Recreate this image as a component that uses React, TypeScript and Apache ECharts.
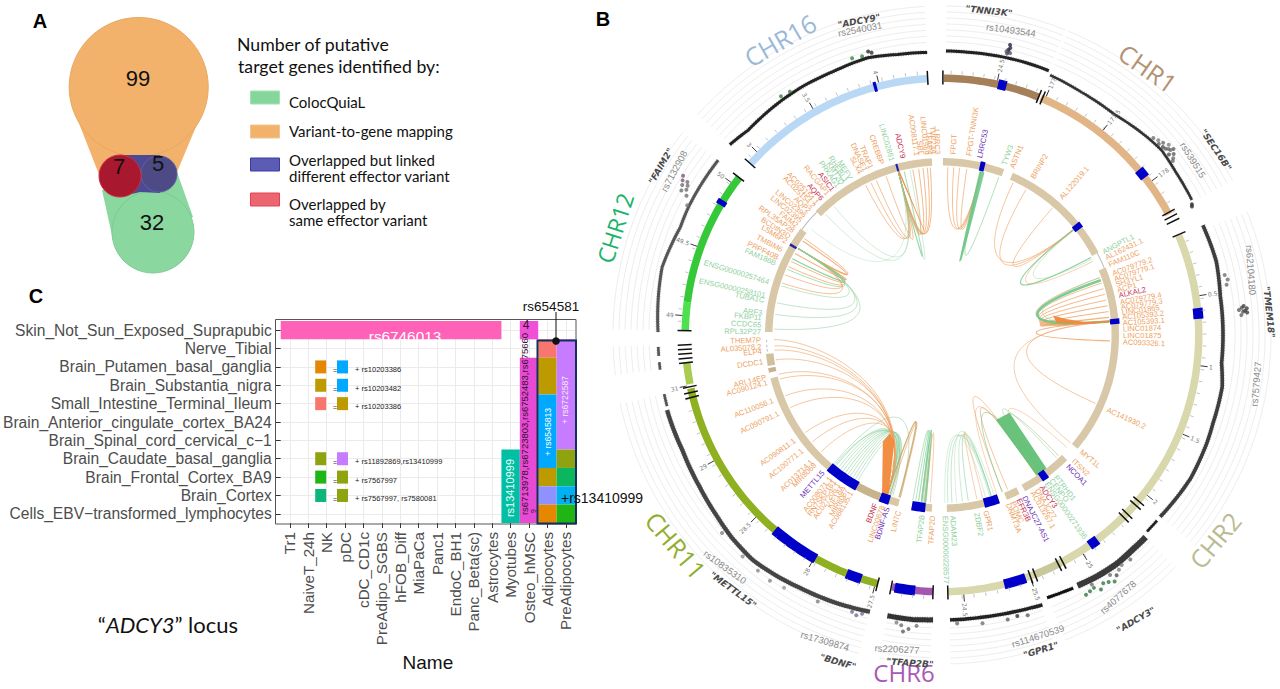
import React, { useEffect, useRef } from "react";
import * as echarts from "echarts";

// ---------- Panel C data ----------
const cellTypes = ["Tr1","NaiveT_24h","NK","pDC","cDC_CD1c","PreAdipo_SGBS","hFOB_Diff","MiaPaCa","Panc1","EndoC_BH1","Panc_Beta(sc)","Astrocytes","Myotubes","Osteo_hMSC","Adipocytes","PreAdipocytes"];
const tissues = ["Skin_Not_Sun_Exposed_Suprapubic","Nerve_Tibial","Brain_Putamen_basal_ganglia","Brain_Substantia_nigra","Small_Intestine_Terminal_Ileum","Brain_Anterior_cingulate_cortex_BA24","Brain_Spinal_cord_cervical_c\u22121","Brain_Caudate_basal_ganglia","Brain_Frontal_Cortex_BA9","Brain_Cortex","Cells_EBV\u2212transformed_lymphocytes"];
// [first column, last column, first row, last row, colour]
const heatTiles: any[] = [
  [0, 11, 0, 0, "#ff61b8"],
  [12, 12, 7, 10, "#00bfa4"],
  [13, 13, 0, 0, "#f04fd6"],
  [13, 13, 2, 10, "#e84ad4"],
  [14, 14, 1, 1, "#f8766d"],
  [14, 14, 2, 3, "#bd9a00"],
  [14, 14, 4, 7, "#00a9ff"],
  [14, 14, 8, 8, "#bd9a00"],
  [14, 14, 9, 9, "#8f91ff"],
  [14, 14, 10, 10, "#e58700"],
  [15, 15, 1, 6, "#c77cff"],
  [15, 15, 7, 7, "#8fa30e"],
  [15, 15, 8, 8, "#0cb65f"],
  [15, 15, 9, 9, "#00b0f0"],
  [15, 15, 10, 10, "#1fb515"],
];
// [column, row, colour]
const miniCells: any[] = [
  [2, 2, "#e58700"], [3, 2, "#00a9ff"],
  [2, 3, "#bd9a00"], [3, 3, "#00a9ff"],
  [2, 4, "#f8766d"], [3, 4, "#bd9a00"],
  [2, 7, "#8fa30e"], [3, 7, "#c77cff"],
  [2, 8, "#1fb515"], [3, 8, "#8fa30e"],
  [2, 9, "#0cb67a"], [3, 9, "#8fa30e"],
];
const miniNotes: any[] = [
  [2, "+ rs10203386"], [3, "+ rs10203482"], [4, "+ rs10203386"],
  [7, "+ rs11892869,rs13410999"], [8, "+ rs7567997"], [9, "+ rs7567997, rs7580081"],
];

// ---------- Panel B data (angles in degrees clockwise from the top) ----------
const blue = "#0000c8";
const outerSegments: any[] = [
  [0.4, 22.2, "#a57f58"], [12.6, 14.5, blue],
  [22.6, 62, "#e2b587"], [50, 52.2, blue],
  [67.1, 178.6, "#d8d8ac"], [84, 86.4, blue], [131, 152, "#d8d8ac"], [142.8, 145, blue], [152.6, 159, "#c8c89c"], [161, 166, blue],
  [182, 191.2, "#a356b0"], [186, 190.6, blue],
  [194.5, 258, "#8fb020"], [198.3, 201.8, blue], [209.4, 220.6, blue],
  [259, 264, "#a9cc50"], [271, 277.4, "#4fe04f"], [277.4, 307.8, "#35c93a"], [300.4, 301.6, blue],
  [311.8, 356.8, "#b9d8f5"], [344.6, 345.3, blue],
];
const blackBars = [0.2, 22.1, 23, 61.6, 62.7, 63.8, 67, 130.2, 131.3, 134, 135.1, 152, 153.1, 158.8, 159.9, 178.7, 182, 191.4, 194.5, 256, 257.1, 258.4, 263.8, 264.8, 265.8, 266.8, 267.8, 271, 307.8, 311.8, 356.8];
// [first, last, step]
const minorTicks: any[] = [[2, 62, 2.4], [69, 178, 2.6], [184, 191, 2.4], [196, 258, 2.6], [273, 307, 2.7], [313, 356, 2.6]];
const majorTicks: any[] = [
  [12.3, "24.5"], [23.6, "177"], [38.2, "177.5"], [53.7, "178"], [81.3, "0.5"], [96.8, "1"], [112.4, "1.5"], [128, "2"],
  [147.2, "25"], [160, "25.5"], [175.2, "24.5"], [195, "27.5"], [209.8, "28"], [225.6, "28.5"], [241.1, "29"], [258.7, "31"],
  [274.3, "49"], [289.9, "49.5"], [305.9, "50"], [314.7, "3"], [330.3, "3.5"], [345.9, "4"],
];
const innerSegments: any[] = [
  [0.3, 20.6, "#d8c8a8"], [12.6, 14.2, blue],
  [23.6, 62.2, "#d8c8a8"], [50.4, 52.4, blue],
  [67.6, 130, "#d8c8a8"], [84.6, 86.4, blue],
  [135, 152, "#d8c8a8"], [143, 145.4, blue],
  [154, 158.5, "#d8c8a8"],
  [161, 178.4, "#d8c8a8"], [161, 166, blue],
  [183.3, 190, "#d8c8a8"], [185.5, 190, blue],
  [194.4, 255.8, "#d8c8a8"], [197.6, 200.9, blue], [200.9, 209.2, "#c8b48c"], [209.2, 220.4, blue],
  [257.7, 259.2, "#c8b48c"], [259.9, 263.8, "#d0c09c"],
  [271, 307, "#d8c8a8"], [300.4, 301.2, "#2020b0"],
  [314.5, 356.7, "#d8c8a8"], [344.7, 345.4, "#2020b0"],
];
const thinInnerArcs: any[] = [[307, 314.5], [62.2, 67.6], [264.6, 265.4], [266, 266.8], [267.6, 268.4]];

const orange = "#ee9f5f", green = "#6fc788", red = "#c8304f", purple = "#6a2fb5", pale = "#8fd0a0";
// [gene, angle, colour]
const geneLabels: any[] = [
  ["FPGT",3.5,orange],["FPGT-TNNI3K",8.5,orange],["LRRC53",12,purple],["TYW3",20,pale],["ASTN1",22.7,orange],["BRINP2",30,orange],["AL122019.1",41,orange],
  ["ANGPTL1",62.7,pale],["AL162431.1",64.7,orange],["FAM110C",67.2,orange],["AC079779.2",70.2,orange],["AC079779.1",72,orange],["SH3YL1",73.8,orange],["ACP1",75.6,orange],["ALKAL2",77.4,red],["AC079779.4",79.6,orange],["AC079779.3",81.2,orange],["LINC01865",82.8,orange],["AC105393.2",84.4,orange],["AC105393.1",86.2,orange],["LINC01874",88.1,orange],["LINC01875",90,orange],["AC093326.1",92.2,orange],
  ["AC141930.2",114.3,orange],["MYT1L",129.9,orange],["ITSN2",133.7,orange],["NCOA1",136.1,purple],["PTRHD1",141.2,pale],["CENPO",143,pale],["ENSG00000271936",144.8,pale],["ADCY3",146.6,red],["DNAJC27",148.4,orange],["AC013267.1",150,orange],["DNAJC27-AS1",153,purple],["EFR3B",155,red],["POMC",157,orange],["DNMT3A",158.6,orange],
  ["GPR1",166,orange],["ZDBF2",169,pale],["ADAM23",176.6,pale],["ENSG00000228577",179,pale],
  ["TFAP2D",183,orange],["TFAP2B",186.3,pale],["LIN7C",193.9,orange],["BDNF-AS",197.6,purple],["LINC00678",199.2,orange],["BDNF",201.5,red],
  ["AC068135.1",210,orange],["MIR8087",211.6,orange],["KIF18A",213.2,orange],["AC027206.1",214.8,orange],["RN7SKP161",216.4,orange],["AC008071.1",218,orange],["METTL15",221,purple],["MIR8068",224.5,orange],["AC013714.1",226,orange],["AC100771.1",230.5,orange],["AC090811.1",234.5,orange],
  ["AC090791.1",244.4,orange],["AC110056.1",248.8,orange],["AC090124.1",254.8,orange],["ARL14EP",256.5,orange],["DCDC1",261.5,orange],["ELP4",264.8,orange],["AL035078.2",266.3,orange],["THEM7P",268.4,orange],
  ["RPL32P27",271,pale],["CCDC65",273.2,pale],["FKBP11",275.4,pale],["ARF3",277,pale],["TUBA1C",281,pale],["ENSG00000258101",282.6,pale],["ENSG00000257464",287,pale],["FAM186B",293.3,pale],["PRPF40B",295.3,orange],["TMBIM6",298,orange],["LSM6P2",301,orange],["BCDIN3D",302.8,orange],["RPL35AP28",305,orange],["FAIM2",307,orange],["LINC02395",309,orange],["LINC02396",311,orange],["AQP2",313,orange],["AC025154.2",315,orange],["AC025154.1",316.5,orange],["AQP6",318.5,red],["RACGAP1",321,orange],["ASIC1",323,red],["PRKAG1",325,pale],["KMT2D",326.6,pale],["RHEBL1",328,pale],["MEFV",329.6,pale],
  ["SLX4",333.2,orange],["DNASE1",335,orange],["TRAP1",337,orange],["CREBBP",340.6,orange],["LINC02861",344,pale],["ADCY9",347.6,red],["AC008117.1",352,orange],["SRL",353.4,orange],["LINC01569",355,orange],["TFAP4",356.2,orange],["TVP23A",357.4,orange],["LRRC3",358.6,orange],
];
// [from angle, to angle, control radius at from, control radius at to, colour, width, opacity]
const chords: any[] = [
  [345,333,75,90,orange,.8,.8],[345,335,75,88,orange,.8,.8],[345,337,75,88,orange,.8,.8],[345,340.6,70,85,orange,.8,.8],
  [345,350,78,85,orange,.9,.8],[345,352,78,85,orange,.9,.8],[345,353.5,78,85,orange,.9,.8],[345,355,78,85,orange,.9,.8],[345,356,78,85,orange,.9,.8],
  [345,347,45,60,green,1.1,.6],[345,349,40,55,green,.8,.4],
  [13.4,2,90,85,orange,.8,.8],[13.4,4,90,85,orange,.8,.8],[13.4,6,90,85,orange,.8,.8],[13.4,8.5,90,85,orange,.8,.8],[13.2,14,45,45,green,1.8,.85],[13.6,14.4,45,50,green,1.4,.85],[13.4,19.8,55,55,green,.9,.6],
  [51.3,25,85,65,orange,.8,.75],[51.3,30,85,60,orange,.8,.75],[51.3,41,85,70,orange,.8,.75],[51.3,62.5,75,65,green,1.2,.8],[51.1,64,85,70,orange,.8,.6],[51.6,63.2,92,88,pale,.8,.5],
  [85.4,70,72,75,orange,.8,.8],[85.4,72,76,75,orange,.8,.8],[85.4,74,76,75,orange,.9,.8],[85.4,76,76,75,orange,.9,.8],[85.4,78,76,75,orange,.9,.8],[85.4,80,76,75,orange,1,.8],[85.4,82,76,75,orange,1,.8],[85.4,84,76,75,orange,1.2,.8],
  [85.4,71,72,78,green,2.6,.9],[85.4,70,80,85,pale,.8,.5],[85.2,92,70,70,orange,1.2,.8],
  [85.4,114,70,55,orange,.8,.75],[85.4,130,62,48,orange,.8,.65],
  [144,132,85,72,orange,.8,.55],[144,136,88,76,"#b7c090",.8,.8],[144,137,72,72,pale,1,.5],[146,157,62,48,orange,.8,.75],[146,159,50,25,orange,.8,.7],[146,161,65,40,orange,.8,.55],
  [144,159,68,58,green,1,.6],
  [163,171,80,80,pale,1,.6],[163,173,80,80,pale,1,.45],[163,176.6,82,80,pale,1,.5],[163.5,178,82,78,pale,1,.45],[165,179,82,78,pale,1,.35],[162,175,78,74,pale,1,.35],[166,168,75,78,orange,.8,.6],
  [187,185.6,72,72,green,1.6,.85],[188,186,72,72,green,1.2,.6],[189,186.5,72,72,green,1,.5],[190,187,72,74,pale,1,.6],[184,186,80,70,orange,.8,.65],
  [211,198,88,90,pale,1,.55],[212,198.5,88,90,pale,1,.55],[213,199,88,90,pale,1,.55],[214,199,90,90,pale,1,.55],[215,198,90,90,green,1,.55],[216,199,92,90,pale,1,.55],[217,199,90,92,pale,1,.55],[218,200,92,92,pale,1,.55],[219,199,92,90,green,1,.5],[210,197.5,92,92,pale,1,.5],[219.5,197,96,92,pale,1,.55],[220,194.4,90,55,pale,1,.55],
  [199,234.5,78,105,orange,.8,.75],[199,230.5,78,105,orange,.8,.75],[199,226,78,105,orange,.8,.7],[199,244.4,72,108,orange,.8,.75],[199,248.8,72,108,orange,.8,.75],[199,254.8,66,110,orange,.8,.75],[199,256.5,66,112,orange,.8,.75],[199,261.5,60,118,orange,.8,.75],[199,264.8,58,125,orange,.8,.75],[199,266.3,55,128,orange,.8,.75],[199,268.4,52,130,orange,.8,.75],
  [198,194.4,82,50,orange,.9,.7],[199,194.8,70,60,"#c7a060",1.4,.8],
  [301,305,92,95,orange,.9,.8],[301,304,93,95,orange,1.2,.8],[301,299,88,95,orange,1.1,.8],[301,296,92,92,orange,.9,.8],[301,294,95,88,orange,.9,.8],[301,291,96,90,orange,.8,.8],[301,288,98,85,orange,.8,.8],
  [301,297,92,92,green,1.3,.8],[301,293,92,88,green,.9,.65],[301,287,80,82,pale,.9,.6],[301,281,72,70,pale,1,.55],[301,277,72,62,pale,1,.55],[301,272,70,55,pale,1,.55],
  [345,316,70,60,pale,1,.4],[345,320,70,62,pale,1,.4],[345,309,72,75,pale,.9,.35],
];
// filled link ribbons: lists of [radius, angle]
const ribbons: any[] = [
  { color: "#62c076", points: [[172,146],[172,142],[103,139],[100.7,147.6]] },
  { color: "#f0883a", points: [[172,198.3],[173,200.3],[122,209],[111,207.9],[117,204]] },
  { color: "#f0883a", points: [[170,85.6],[143,85.6],[115,84],[113,80],[125,82.6],[143,84.8],[170,85.2]] },
  { color: "#f0883a", points: [[171,345.4],[171,344.9],[108,350],[103,351],[106,350.5]] },
];
// Manhattan tracks: [width, colour, [angle, radius]...]
const manhattanChunks: any[] = [
  { w: 3, c: "#222", p: [[0.8,284],[6,284],[11,284.5],[17,285],[22,285]] },
  { w: 2.6, c: "#333", p: [[22.6,281.5],[30,280],[38,280],[46,285],[50,287],[55,285],[61.6,284]] },
  { w: 3.6, c: "#3d3d3d", p: [[67.2,283],[75,284],[82,281],[90,281],[95.7,281],[100.5,285],[108,285],[112,286],[120,287],[129.8,284]] },
  { w: 2.6, c: "#222", p: [[130.8,284],[133.8,284]] },
  { w: 6, c: "#3a3a3a", p: [[134.8,287],[138,287],[142.5,288],[147,287],[151.6,285]] },
  { w: 3, c: "#111", p: [[152.6,285],[155,284],[158.2,283]] },
  { w: 3.4, c: "#222", p: [[159.6,288],[162,287],[165.6,286],[172,285],[178.4,285]] },
  { w: 5, c: "#333", p: [[181.8,285],[186,286],[191,286]] },
  { w: 4.2, c: "#444", p: [[194.6,286],[198,287],[201.4,288],[205,289],[209.3,290],[214,292],[220,294],[226,292],[231,289],[238,286],[246,284],[254.7,285]] },
  { w: 2.6, c: "#555", p: [[255.5,284],[258,284]] },
  { w: 2.6, c: "#555", p: [[263,284],[264.5,284]] },
  { w: 2.6, c: "#555", p: [[265.8,284],[267.6,284]] },
  { w: 3, c: "#555", p: [[270.6,284],[277,286],[283.6,288],[292.4,283],[297,284],[301.4,284],[308,284]] },
  { w: 3, c: "#222", p: [[311.9,285],[316.6,282],[325,284],[331,285],[337.5,285],[345,287],[351,284],[357,283]] },
];
// individual association points standing out of the Manhattan tracks: [angle, radius, colour]
const manhattanPeaks: any[] = [
  [13,289,"#445"],[13.2,291,"#445"],[13.1,293,"#223"],[13.4,295,"#223"],[13.2,298,"#113"],[12.8,291,"#556"],[13.6,290,"#556"],
  [47,289,"#666"],[48,291,"#777"],[49,293,"#666"],[50,296,"#777"],[50.6,293,"#666"],[51.2,297,"#555"],[52,294,"#555"],[53,289,"#666"],[49.6,290,"#444"],[51.5,290,"#444"],[48.6,289,"#555"],[50.2,291,"#555"],[52.6,291,"#666"],[51,294,"#666"],
  [62.4,282,"#222"],[62.8,281,"#222"],
  [78,289,"#666"],[79,291,"#666"],[80,289,"#666"],[84.5,303,"#333"],[85,306,"#333"],[85.4,304,"#333"],[85.8,306,"#333"],[85.2,298,"#555"],[86.2,300,"#555"],[84.8,301,"#444"],[85.6,302,"#444"],
  [140,293,"#666"],[143,294,"#777"],[145,293,"#666"],[149,291,"#666"],[147,296,"#286e3a"],[146,298,"#286e3a"],[149,295,"#286e3a"],[151,297,"#286e3a"],[145,301,"#286e3a"],[148,300,"#286e3a"],[150,296,"#286e3a"],[144,297,"#444"],[142,292,"#777"],
  [165,291,"#222"],[167,292,"#555"],[163,293,"#555"],[172,291,"#666"],[177,289,"#666"],
  [185,292,"#666"],[186.5,296,"#555"],[188,293,"#666"],[189,291,"#777"],[187.5,299,"#555"],
  [196,290,"#6a6a8a"],[197,293,"#6a6a8a"],[198,291,"#6a6a8a"],[205,294,"#777"],[212,298,"#8a9a8a"],[215,300,"#7a8a7a"],[218,299,"#7a8a7a"],[222,298,"#888"],[228,296,"#777"],
  [297,286,"#777"],[299,298,"#666"],[300,300,"#666"],[300.8,302,"#754a75"],[301.6,304,"#754a75"],[301,297,"#666"],[299.6,294,"#666"],[298.6,291,"#666"],[300.4,295,"#666"],
  [342,291,"#2f7a3a"],[344,290,"#2f7a3a"],[345.4,293,"#222"],[346,291,"#222"],[328,287,"#3a7a3a"],[326,288,"#3a7a3a"],
];
// angular extent of the faint concentric guide arcs
const guideSectors: any[] = [[0.8,22],[22.6,62],[68,129.8],[134.8,158],[160,178.5],[182,191],[194.6,258],[263,268],[271,308],[312,357]];
const guideRadii = [293, 299, 305, 311, 317, 323, 329];

const chrNames: any[] = [
  ["CHR1","#b39273",1148,68,-35,25],["CHR16","#9ab9d8",780,40,30,25],["CHR12","#18b46a",615,228,72,23],["CHR2","#baba90",1215,540,50,25],["CHR6","#a759b4",904,672,0,24],["CHR11","#92ae2e",676,545,-50,25],
];
const locusNames: any[] = [
  ["\"ADCY9\"",859,21,11],["\"TNNI3K\"",989,11,-6],["\"SEC16B\"",1216,150,-56],["\"TMEM18\"",1269,312,-84],["\"ADCY3\"",1136,620,30],["\"GPR1\"",1041,650,17],["\"TFAP2B\"",910,663,-4],["\"BDNF\"",838,662,-16],["\"METTL15\"",733,590,-36],["\"FAIM2\"",661,166,60],
];
const leadSnps: any[] = [
  ["rs2540031",860,29,11],["rs10493544",1011,30,-8],["rs539515",1193,160,-58],["rs62104180",1251,270,-86],["rs7579427",1256,384,85],["rs4077678",1118,597,42],["rs114670539",1038,636,18],["rs2206277",897,649,-3],["rs17309874",825,641,-16],["rs10835310",725,567,-36],["rs7132908",674,171,62],
];

// ---------- Panel A data ----------
const vennCounts: any[] = [["99",138,78],["7",119,166],["5",158,163],["32",152,222]];
const legendItems = ["ColocQuiaL","Variant-to-gene mapping","Overlapped but linked\ndifferent effector variant","Overlapped by\nsame effector variant"];

const deg = Math.PI / 180;

function customPolar(data: any[], z: number, draw: (item: any, api: any) => any) {
  return {
    type: "custom", coordinateSystem: "polar", polarIndex: 0, silent: true, z, clip: false,
    data: data.map((_, i) => [200, i % 360]),
    renderItem: (params: any, api: any) => draw(data[params.dataIndex], api),
  };
}
function arcBand(api: any, a0: number, a1: number, r0: number, r1: number) {
  const pts: number[][] = [];
  const n = Math.max(1, Math.ceil(Math.abs(a1 - a0)));
  for (let i = 0; i <= n; i++) pts.push(api.coord([r1, a0 + ((a1 - a0) * i) / n]));
  for (let i = n; i >= 0; i--) pts.push(api.coord([r0, a0 + ((a1 - a0) * i) / n]));
  return pts;
}
function trackPoints(api: any, p: number[][]) {
  const pts: number[][] = [];
  for (let k = 0; k < p.length - 1; k++) {
    const n = Math.max(1, Math.ceil(p[k + 1][0] - p[k][0]));
    for (let i = 0; i < n; i++) {
      const t = i / n;
      pts.push(api.coord([p[k][1] + (p[k + 1][1] - p[k][1]) * t, p[k][0] + (p[k + 1][0] - p[k][0]) * t]));
    }
  }
  const last = p[p.length - 1];
  pts.push(api.coord([last[1], last[0]]));
  return pts;
}
function radialText(api: any, text: string, a: number, r: number, fill: string, font: string, inward = 0) {
  const [x, y] = api.coord([r, a]);
  const right = a <= 180;
  return {
    type: "text", x, y, rotation: ((right ? 90 - a : 270 - a) * deg),
    style: { text, fill, font, align: right ? "left" : "right", verticalAlign: "middle" }, z2: inward,
  };
}

function buildOption() {
  const txt = (text: string, x: number, y: number, font: string, fill = "#111", rotation = 0, align = "center", lineHeight?: number) => ({
    type: "text", x, y, rotation: rotation * deg, silent: true, z: 50,
    style: { text, font, fill, align, verticalAlign: "middle", lineHeight },
  });
  const lato = "Lato, 'Open Sans', sans-serif";
  const arial = "'Liberation Sans', Arial, sans-serif";
  const graphics: any[] = [
    // Panel letters
    txt("A", 40, 21, `bold 20px ${arial}`, "#000"),
    txt("B", 603, 19, `bold 20px ${arial}`, "#000"),
    txt("C", 36, 296, `bold 20px ${arial}`, "#000"),
    // Panel A hull shapes
    { type: "polygon", z: 10, shape: { points: [[71,103],[100,177],[110,192],[170,192],[177,172],[203,110]] }, style: { fill: "#f3b26c" } },
    { type: "circle", z: 10, shape: { cx: 138.7, cy: 87, r: 69.5 }, style: { fill: "#f3b26c", stroke: "#e9a860", lineWidth: 1 } },
    { type: "polygon", z: 11, shape: { points: [[102,190],[113,240],[193,217],[177,172],[130,190]] }, style: { fill: "#8ad8a0" } },
    { type: "circle", z: 11, shape: { cx: 153, cy: 232, r: 41 }, style: { fill: "#8ad8a0", stroke: "#7dcb94", lineWidth: 1 } },
    { type: "polygon", z: 12, shape: { points: [[120,155],[160,155],[160,193],[140,192],[120,197]] }, style: { fill: "#4b4a92" } },
    { type: "circle", z: 12, shape: { cx: 159, cy: 174, r: 18 }, style: { fill: "#4e4a86", stroke: "#5f5ea8", lineWidth: 1 } },
    { type: "circle", z: 13, shape: { cx: 120, cy: 176, r: 21 }, style: { fill: "#a8182f", stroke: "#cc3040", lineWidth: 1 } },
    ...vennCounts.map((v) => txt(v[0], v[1], v[2], `22px ${arial}`, "#111")),
    // Panel A legend
    txt("Number of putative", 237, 44, `17.7px ${lato}`, "#111", 0, "left"),
    txt("target genes identified by:", 238, 66, `17.7px ${lato}`, "#111", 0, "left"),
    { type: "rect", z: 10, shape: { x: 250.5, y: 91, width: 29, height: 13 }, style: { fill: "#84d69a", stroke: "#a6e1b4" } },
    { type: "rect", z: 10, shape: { x: 250.5, y: 125, width: 29, height: 13 }, style: { fill: "#f3b26c", stroke: "#f2c492" } },
    { type: "rect", z: 10, shape: { x: 250.5, y: 158, width: 29, height: 13 }, style: { fill: "#5c5cb4", stroke: "#3a3aa4" } },
    { type: "rect", z: 10, shape: { x: 250.5, y: 193, width: 29, height: 13 }, style: { fill: "#ea6670", stroke: "#e84050" } },
    txt(legendItems[0], 289, 102, `15px ${lato}`, "#111", 0, "left"),
    txt(legendItems[1], 289, 131, `15px ${lato}`, "#111", 0, "left"),
    txt(legendItems[2], 289, 168, `15px ${lato}`, "#111", 0, "left", 15.5),
    txt(legendItems[3], 289, 212, `15px ${lato}`, "#111", 0, "left", 15.5),
    // Panel C annotations
    { type: "rect", z: 20, silent: true, shape: { x: 275.5, y: 319.5, width: 300.5, height: 204.5 }, style: { fill: "none", stroke: "#555", lineWidth: 1 } },
    { type: "rect", z: 21, silent: true, shape: { x: 537.5, y: 340.5, width: 38.5, height: 183 }, style: { fill: "none", stroke: "#14305a", lineWidth: 2 } },
    { type: "line", z: 22, silent: true, shape: { x1: 556, y1: 312, x2: 556, y2: 340 }, style: { stroke: "#111", lineWidth: 1 } },
    { type: "circle", z: 22, silent: true, shape: { cx: 556, cy: 341, r: 3.8 }, style: { fill: "#111" } },
    txt("rs654581", 551, 306, `13.5px ${arial}`, "#111", 0, "center"),
    txt("+rs13410999", 561, 498, `14px ${arial}`, "#111", 0, "left"),
    txt("rs6746013", 405, 336, `15.3px ${arial}`, "#ffffff", 0, "center"),
    txt("rs13410999", 510, 488, `11px ${arial}`, "#e9fff8", 90, "center"),
    txt("rs6713978,rs6723803,rs6752483,rs675660", 524, 424, `9.5px ${arial}`, "#301030", 90, "center"),
    txt("9", 533, 511, `7px ${arial}`, "#301030", 90, "center"),
    txt("4", 526, 325, `12px ${arial}`, "#301030", 0, "center"),
    txt("+ rs6545813", 548, 432, `8.6px ${arial}`, "#ffffff", 90, "center"),
    txt("+ rs6722587", 565, 400, `8.6px ${arial}`, "#f7e8ff", 90, "center"),
    // locus caption
    {
      type: "text", x: 168, y: 624, z: 50, silent: true,
      style: {
        text: "{a|\u201c}{i|ADCY3}{a|\u201d locus}", align: "center", verticalAlign: "middle",
        rich: { a: { font: `22px ${lato}`, fill: "#111" }, i: { font: `italic 22px ${lato}`, fill: "#111" } },
      },
    },
    ...chrNames.map((c) => txt(c[0], c[2], c[3], `${c[5]}px 'Open Sans', sans-serif`, c[1], c[4])),
    ...locusNames.map((c) => txt(c[0], c[1], c[2], `italic bold 9px 'DejaVu Sans', sans-serif`, "#4a4a4a", c[3])),
    ...leadSnps.map((c) => txt(c[0], c[1], c[2], `9.5px 'Liberation Sans', sans-serif`, "#8a8a8a", c[3])),
  ];

  const series: any[] = [
    // Panel C tiles
    {
      type: "custom", coordinateSystem: "cartesian2d", silent: true, z: 3,
      data: heatTiles.map((t) => [t[0], t[2]]),
      renderItem: (params: any, api: any) => {
        const t = heatTiles[params.dataIndex];
        const a = api.coord([t[0], t[2]]), b = api.coord([t[1], t[3]]), s = api.size([1, 1]);
        return { type: "rect", shape: { x: a[0] - s[0] / 2, y: a[1] - s[1] / 2, width: b[0] - a[0] + s[0], height: b[1] - a[1] + s[1] }, style: { fill: t[4] } };
      },
    },
    {
      type: "custom", coordinateSystem: "cartesian2d", silent: true, z: 3,
      data: miniCells.map((t) => [t[0], t[1]]),
      renderItem: (params: any, api: any) => {
        const t = miniCells[params.dataIndex];
        const a = api.coord([t[0], t[1]]);
        const shift = t[0] === 2 ? -6 : -2.6;
        return { type: "rect", shape: { x: a[0] + shift - 5.5, y: a[1] - 6.5, width: 11, height: 13 }, style: { fill: t[2] } };
      },
    },
    {
      type: "custom", coordinateSystem: "cartesian2d", silent: true, z: 4,
      data: miniNotes.map((t) => [3, t[0]]),
      renderItem: (params: any, api: any) => {
        const t = miniNotes[params.dataIndex];
        const a = api.coord([3, t[0]]);
        return {
          type: "group", children: [
            { type: "text", x: a[0] + 10, y: a[1] + 3, style: { text: t[1], font: "7.5px 'Liberation Sans', sans-serif", fill: "#222", align: "left", verticalAlign: "middle" } },
            { type: "text", x: a[0] - 10, y: a[1] + 4, style: { text: "=", font: "7px 'Liberation Sans', sans-serif", fill: "#333", align: "center", verticalAlign: "middle" } },
          ],
        };
      },
    },
    // Panel B
    customPolar(guideSectors, 1, (s, api) => ({
      type: "group",
      children: guideRadii.map((r) => ({
        type: "polyline",
        shape: { points: trackPoints(api, [[s[0], r], [s[1], r]]) },
        style: { stroke: "#e8e8e8", lineWidth: 0.8, fill: "none" },
      })),
    })),
    customPolar(manhattanChunks, 2, (m, api) => {
      const points = trackPoints(api, m.p);
      return {
        type: "group", children: [
          { type: "polyline", shape: { points }, style: { stroke: m.c, lineWidth: m.w + 1.6, fill: "none", opacity: 0.35, lineDash: [1, 1.5] } },
          { type: "polyline", shape: { points }, style: { stroke: m.c, lineWidth: m.w, fill: "none" } },
        ],
      };
    }),
    customPolar(manhattanPeaks, 3, (m, api) => {
      const [cx, cy] = api.coord([m[1], m[0]]);
      return { type: "circle", shape: { cx, cy, r: 2 }, style: { fill: m[2], opacity: 0.75 } };
    }),
    customPolar(outerSegments, 4, (s, api) => ({
      type: "polygon", shape: { points: arcBand(api, s[0], s[1], s[2] === blue ? 252 : 253, s[2] === blue ? 262 : 260.5) }, style: { fill: s[2] },
    })),
    customPolar(minorTicks, 4, (t, api) => {
      const children: any[] = [];
      for (let a = t[0]; a <= t[1]; a += t[2]) {
        const p = api.coord([261, a]), q = api.coord([264.5, a]);
        children.push({ type: "line", shape: { x1: p[0], y1: p[1], x2: q[0], y2: q[1] }, style: { stroke: "#aaa", lineWidth: 0.7 } });
      }
      return { type: "group", children };
    }),
    customPolar(majorTicks, 5, (t, api) => {
      const p = api.coord([260.5, t[0]]), q = api.coord([267.5, t[0]]);
      return {
        type: "group", children: [
          { type: "line", shape: { x1: p[0], y1: p[1], x2: q[0], y2: q[1] }, style: { stroke: "#222", lineWidth: 0.9 } },
          radialText(api, t[1], t[0], 269, "#777", "6px 'DejaVu Sans', sans-serif"),
        ],
      };
    }),
    customPolar(blackBars, 6, (a, api) => {
      const p = api.coord([250.5, a]), q = api.coord([264.5, a]);
      return { type: "line", shape: { x1: p[0], y1: p[1], x2: q[0], y2: q[1] }, style: { stroke: "#111", lineWidth: 1.5 } };
    }),
    customPolar(chords, 7, (c, api) => {
      const p0 = api.coord([168, c[0]]), p1 = api.coord([c[2], c[0]]), p2 = api.coord([c[3], c[1]]), p3 = api.coord([168, c[1]]);
      return {
        type: "bezierCurve",
        shape: { x1: p0[0], y1: p0[1], cpx1: p1[0], cpy1: p1[1], cpx2: p2[0], cpy2: p2[1], x2: p3[0], y2: p3[1] },
        style: { stroke: c[4], lineWidth: c[5], opacity: c[6], fill: "none" },
      };
    }),
    customPolar(ribbons, 8, (b, api) => ({
      type: "polygon",
      shape: { points: b.points.map((p: number[]) => api.coord([p[0], p[1]])) },
      style: { fill: b.color, opacity: 0.95 },
    })),
    customPolar(thinInnerArcs, 9, (s, api) => ({
      type: "polygon", shape: { points: arcBand(api, s[0], s[1], 175, 176) }, style: { fill: "#bbbbbb" },
    })),
    customPolar(innerSegments, 9, (s, api) => ({
      type: "polygon", shape: { points: arcBand(api, s[0], s[1], s[2] === blue ? 168.5 : 169.5, s[2] === blue ? 178 : 177) }, style: { fill: s[2] },
    })),
    customPolar(geneLabels, 10, (g, api) => radialText(api, g[0], g[1], 181, g[2], "7.6px 'Liberation Sans', sans-serif")),
  ];

  return {
    animation: false,
    backgroundColor: "#ffffff",
    textStyle: { fontFamily: "'Liberation Sans', Arial, sans-serif" },
    grid: { left: 277, top: 321, width: 298, height: 202, containLabel: false },
    xAxis: {
      type: "category", data: cellTypes, gridIndex: 0,
      name: "Name", nameLocation: "middle", nameGap: 130,
      nameTextStyle: { fontSize: 19, color: "#111" },
      axisLine: { show: false },
      axisTick: { show: true, alignWithLabel: true, length: 5, lineStyle: { color: "#333" } },
      axisLabel: { rotate: 90, interval: 0, margin: 9, fontSize: 15.2, color: "#4d4d4d" },
      splitLine: { show: true, alignWithLabel: true, interval: 0, lineStyle: { color: "#ebebeb", width: 1 } },
    },
    yAxis: {
      type: "category", data: tissues, inverse: true, gridIndex: 0,
      axisLine: { show: false },
      axisTick: { show: true, alignWithLabel: true, length: 5, lineStyle: { color: "#333" } },
      axisLabel: { interval: 0, margin: 9, fontSize: 15.6, color: "#4d4d4d" },
      splitLine: { show: true, alignWithLabel: true, interval: 0, lineStyle: { color: "#ebebeb", width: 1 } },
    },
    polar: { center: [942, 335], radius: 340 },
    radiusAxis: { type: "value", min: 0, max: 340, show: false, polarIndex: 0, splitLine: { show: false }, axisLine: { show: false } },
    angleAxis: { type: "value", min: 0, max: 360, startAngle: 90, clockwise: true, show: false, polarIndex: 0, splitLine: { show: false }, axisLine: { show: false } },
    graphic: { elements: graphics },
    series,
  };
}

export default function App() {
  const ref = useRef<HTMLDivElement>(null);
  useEffect(() => {
    const chart = echarts.init(ref.current!, undefined, { renderer: "svg" });
    chart.setOption(buildOption() as any);
    return () => chart.dispose();
  }, []);
  return <div ref={ref} style={{ position: "fixed", left: 0, top: 0, width: 1280, height: 689 }} />;
}
